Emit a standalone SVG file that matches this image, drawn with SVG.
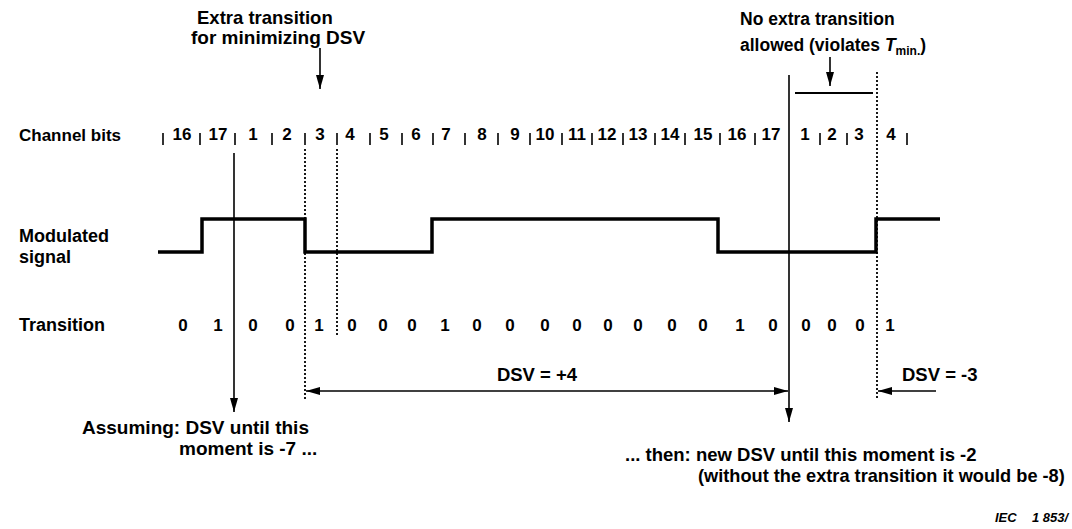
<svg xmlns="http://www.w3.org/2000/svg" width="1072" height="529" viewBox="0 0 1072 529">
<style>
text{font-family:"Liberation Sans",Arial,sans-serif;font-weight:bold;fill:#000}
.lbl{font-size:18px}
.big{font-size:18.5px}
.med{font-size:17.5px}
.dig{font-size:17px;text-anchor:middle}
.tick{stroke:#000;stroke-width:1.6}
.solid{stroke:#000;stroke-width:1.6;fill:none}
.dot{stroke:#000;stroke-width:1.8;stroke-dasharray:2 2;fill:none}
.sig{stroke:#000;stroke-width:3.5;fill:none;stroke-linejoin:miter}
.iec{font-size:13px;font-style:italic}
</style>
<defs>
<marker id="ah" viewBox="0 0 14 8" refX="14" refY="4" markerWidth="14" markerHeight="8" markerUnits="userSpaceOnUse" orient="auto-start-reverse"><path d="M0,0 L14,4 L0,8 z" fill="#000"/></marker>
</defs>
<rect width="1072" height="529" fill="#fff"/>

<g id="row-labels">
<text class="lbl" x="19" y="141" style="font-size:17px">Channel bits</text>
<text class="lbl" x="19" y="242">Modulated</text>
<text class="lbl" x="19" y="263">signal</text>
<text class="lbl" x="19" y="331">Transition</text>
</g>

<g id="note-extra">
<text class="big" x="197" y="24">Extra transition</text>
<text class="big" x="191" y="44" style="font-size:19px">for minimizing DSV</text>
</g>

<g id="note-noextra">
<text class="med" x="740" y="25">No extra transition</text>
<text class="med" x="740" y="51">allowed (violates <tspan font-style="italic">T</tspan><tspan font-size="12px" dy="4">min.</tspan><tspan dy="-4">)</tspan></text>
</g>

<g id="channel-bits">
<g class="ticks">
<line class="tick" x1="163" y1="133" x2="163" y2="145"/>
<line class="tick" x1="200" y1="133" x2="200" y2="145"/>
<line class="tick" x1="235" y1="133" x2="235" y2="145"/>
<line class="tick" x1="272" y1="133" x2="272" y2="145"/>
<line class="tick" x1="305" y1="133" x2="305" y2="145"/>
<line class="tick" x1="337" y1="133" x2="337" y2="145"/>
<line class="tick" x1="370" y1="133" x2="370" y2="145"/>
<line class="tick" x1="402" y1="133" x2="402" y2="145"/>
<line class="tick" x1="433" y1="133" x2="433" y2="145"/>
<line class="tick" x1="465" y1="133" x2="465" y2="145"/>
<line class="tick" x1="498" y1="133" x2="498" y2="145"/>
<line class="tick" x1="530" y1="133" x2="530" y2="145"/>
<line class="tick" x1="562" y1="133" x2="562" y2="145"/>
<line class="tick" x1="592" y1="133" x2="592" y2="145"/>
<line class="tick" x1="623" y1="133" x2="623" y2="145"/>
<line class="tick" x1="655" y1="133" x2="655" y2="145"/>
<line class="tick" x1="685" y1="133" x2="685" y2="145"/>
<line class="tick" x1="720" y1="133" x2="720" y2="145"/>
<line class="tick" x1="755" y1="133" x2="755" y2="145"/>
<line class="tick" x1="820" y1="133" x2="820" y2="145"/>
<line class="tick" x1="847" y1="133" x2="847" y2="145"/>
<line class="tick" x1="907" y1="133" x2="907" y2="145"/>
</g>
<text class="dig" x="182" y="140">16</text>
<text class="dig" x="218" y="140">17</text>
<text class="dig" x="253" y="140">1</text>
<text class="dig" x="287" y="140">2</text>
<text class="dig" x="320" y="140">3</text>
<text class="dig" x="350" y="140">4</text>
<text class="dig" x="384" y="140">5</text>
<text class="dig" x="416" y="140">6</text>
<text class="dig" x="446" y="140">7</text>
<text class="dig" x="482" y="140">8</text>
<text class="dig" x="515" y="140">9</text>
<text class="dig" x="545" y="140">10</text>
<text class="dig" x="577" y="140">11</text>
<text class="dig" x="607" y="140">12</text>
<text class="dig" x="638" y="140">13</text>
<text class="dig" x="670" y="140">14</text>
<text class="dig" x="703" y="140">15</text>
<text class="dig" x="737" y="140">16</text>
<text class="dig" x="771" y="140">17</text>
<text class="dig" x="805" y="140">1</text>
<text class="dig" x="832" y="140">2</text>
<text class="dig" x="859" y="140">3</text>
<text class="dig" x="891" y="140">4</text>
</g>

<g id="modulated-signal">
<polyline class="sig" points="158,252 202,252 202,219 305,219 305,252 432,252 432,219 718,219 718,252 876,252 876,219 940,219"/>
</g>

<g id="transitions">
<text class="dig" x="183" y="331">0</text>
<text class="dig" x="218" y="331">1</text>
<text class="dig" x="253" y="331">0</text>
<text class="dig" x="290" y="331">0</text>
<text class="dig" x="319" y="331">1</text>
<text class="dig" x="352" y="331">0</text>
<text class="dig" x="383" y="331">0</text>
<text class="dig" x="412" y="331">0</text>
<text class="dig" x="445" y="331">1</text>
<text class="dig" x="477" y="331">0</text>
<text class="dig" x="510" y="331">0</text>
<text class="dig" x="545" y="331">0</text>
<text class="dig" x="577" y="331">0</text>
<text class="dig" x="608" y="331">0</text>
<text class="dig" x="638" y="331">0</text>
<text class="dig" x="672" y="331">0</text>
<text class="dig" x="703" y="331">0</text>
<text class="dig" x="740" y="331">1</text>
<text class="dig" x="773" y="331">0</text>
<text class="dig" x="806" y="331">0</text>
<text class="dig" x="832" y="331">0</text>
<text class="dig" x="860" y="331">0</text>
<text class="dig" x="890" y="331">1</text>
</g>

<g id="dsv-labels">
<text class="big" x="537" y="381" text-anchor="middle">DSV = +4</text>
<text class="big" x="902" y="381">DSV = -3</text>
</g>

<g id="note-assuming">
<text class="big" x="82" y="434" style="font-size:19px">Assuming: DSV until this</text>
<text class="big" x="179" y="455" style="font-size:19px">moment is -7 ...</text>
</g>

<g id="note-then">
<text class="big" x="625" y="461">... then: new DSV until this moment is -2</text>
<text class="big" x="698" y="482" style="font-size:18.2px">(without the extra transition it would be -8)</text>
</g>

<g id="iec">
<text class="iec" x="995" y="522">IEC</text>
<text class="iec" x="1032" y="522">1 853/</text>
</g>

<g id="connectors">
<line class="solid" x1="320" y1="48" x2="320" y2="89" marker-end="url(#ah)"/>
<line class="solid" x1="830" y1="57" x2="830" y2="86" marker-end="url(#ah)"/>
<line x1="795" y1="93" x2="873" y2="93" stroke="#000" stroke-width="2"/>
<line class="solid" x1="234" y1="153" x2="234" y2="412" marker-end="url(#ah)"/>
<line class="solid" x1="789" y1="75" x2="789" y2="422" marker-end="url(#ah)"/>
<line class="dot" x1="305" y1="149" x2="305" y2="400"/>
<line class="dot" x1="337" y1="149" x2="337" y2="337"/>
<line class="dot" x1="877" y1="72" x2="877" y2="400"/>
<line class="solid" x1="306" y1="391" x2="788" y2="391" marker-start="url(#ah)" marker-end="url(#ah)"/>
<line class="solid" x1="936" y1="391" x2="878" y2="391" marker-end="url(#ah)"/>
</g>
</svg>
